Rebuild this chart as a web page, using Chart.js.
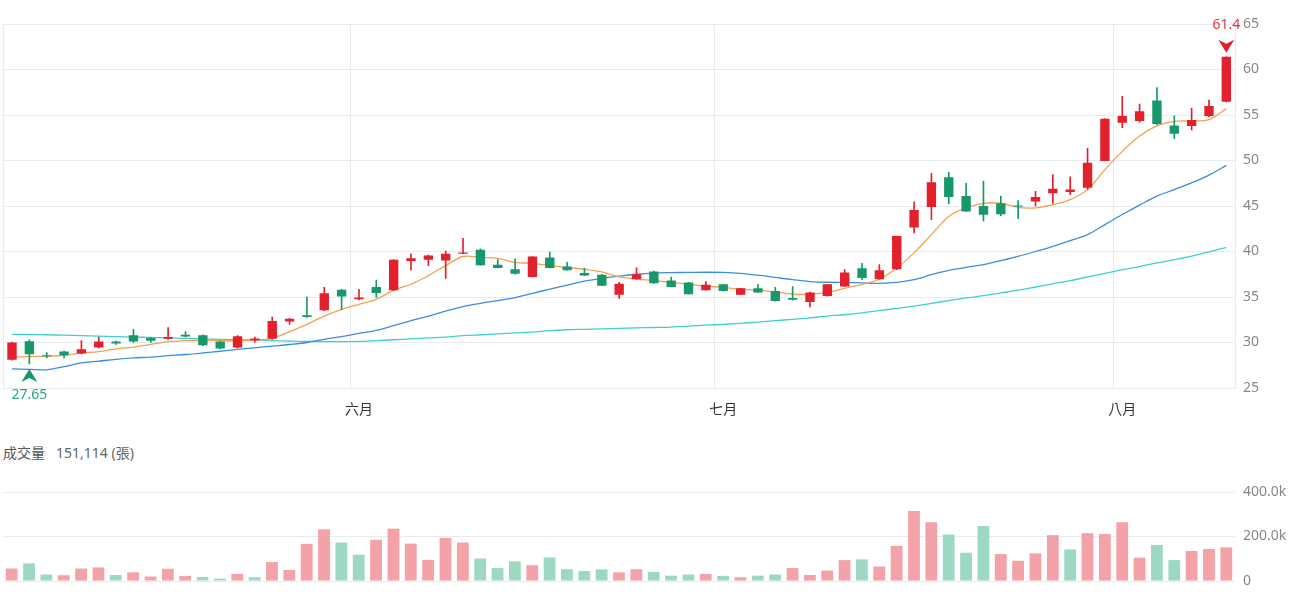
<!DOCTYPE html>
<html>
<head>
<meta charset="utf-8">
<script src="https://cdn.jsdelivr.net/npm/chart.js@4.4.1/dist/chart.umd.min.js"></script>
<style>
  body { margin: 0; background: #fff; width: 1300px; height: 600px; overflow: hidden; position: relative;
         font-family: 'Noto Sans', 'Noto Sans CJK TC', sans-serif; }
  #priceWrap { position: absolute; left: 0; top: 0; }
  #volTitle { position: absolute; left: 3px; top: 442px; font-size: 14px; color: #555; font-family: 'Noto Sans CJK TC', sans-serif; }
  #volTitle .num { color: #666; margin-left: 11px; font-family: 'Noto Sans', 'Noto Sans CJK TC', sans-serif; }
  #volWrap { position: absolute; left: 0; top: 470px; }
</style>
</head>
<body>
<div id="priceWrap"><canvas id="priceChart" width="1300" height="420"></canvas></div>
<div id="volTitle">成交量<span class="num" id="volNum"></span></div>
<div id="volWrap"><canvas id="volChart" width="1300" height="130"></canvas></div>

<script>
// month names and the index of the first trading day of each
const months = ["六月", "七月", "八月"];
const monthStart = [20, 41, 64];

const opens = [28.1, 30.15, 28.6, 29.0, 28.8, 29.45, 30.1, 30.8, 30.5, 30.4,
  30.85, 30.8, 30.1, 29.45, 30.25, 30.4, 32.3, 33.0, 33.55, 35.8,
  34.75, 36.1, 35.75, 38.95, 39.1, 39.0, 39.75, 40.2, 38.55, 38.05,
  37.2, 39.35, 38.35, 37.65, 37.45, 35.25, 36.95, 37.8, 36.8, 36.6,
  35.75, 36.4, 35.25, 35.95, 35.65, 34.9, 34.45, 35.1, 36.15, 38.15,
  36.95, 38.05, 42.65, 44.9, 48.15, 46.1, 45.0, 45.3, 45.05, 45.5,
  46.4, 46.55, 47.0, 49.95, 54.15, 54.35, 56.6, 53.85, 53.8, 54.9, 56.45];
const highs = [30.05, 30.3, 28.9, 29.05, 30.2, 30.6, 30.15, 31.45, 30.55, 31.65,
  31.2, 30.85, 30.15, 30.75, 30.6, 32.8, 32.65, 35.0, 36.05, 35.85,
  35.85, 36.85, 39.1, 39.75, 39.6, 40.05, 41.45, 40.3, 39.1, 39.2,
  39.45, 39.95, 38.8, 38.15, 37.5, 36.6, 38.2, 37.85, 37.2, 36.6,
  36.7, 36.4, 35.95, 36.4, 36.05, 36.15, 35.55, 36.4, 38.0, 38.7,
  38.55, 41.7, 45.45, 48.6, 48.7, 47.5, 47.75, 46.1, 45.6, 46.6,
  48.45, 48.2, 51.35, 54.6, 57.05, 56.2, 58.0, 54.9, 55.75, 56.65, 61.4];
const lows = [28.05, 27.65, 28.3, 28.3, 28.75, 29.4, 29.8, 30.0, 30.0, 30.35,
  30.6, 29.65, 29.3, 29.4, 30.05, 30.35, 32.0, 32.75, 33.5, 33.6,
  34.7, 34.95, 35.7, 37.95, 38.45, 37.05, 39.75, 38.5, 38.2, 37.5,
  37.2, 38.2, 37.95, 37.35, 36.25, 34.85, 36.95, 36.5, 36.1, 35.3,
  35.75, 35.65, 35.25, 35.5, 34.55, 34.65, 33.9, 35.1, 36.15, 36.9,
  36.95, 38.0, 42.05, 43.5, 45.25, 44.4, 43.35, 43.95, 43.6, 45.0,
  45.3, 46.25, 46.85, 49.95, 53.6, 54.2, 53.95, 52.4, 53.35, 54.8, 56.45];
const closes = [30.0, 28.7, 28.5, 28.6, 29.25, 30.1, 29.9, 30.1, 30.2, 30.6,
  30.65, 29.7, 29.35, 30.7, 30.45, 32.35, 32.6, 32.8, 35.4, 35.05,
  34.95, 35.45, 39.1, 39.25, 39.55, 39.75, 39.9, 38.5, 38.2, 37.55,
  39.45, 38.2, 37.95, 37.35, 36.25, 36.45, 37.5, 36.5, 36.1, 35.3,
  36.35, 35.65, 35.95, 35.5, 34.55, 34.7, 35.5, 36.4, 37.7, 37.1,
  37.95, 41.7, 44.55, 47.6, 46.0, 44.4, 44.05, 44.1, 44.95, 46.0,
  46.9, 46.8, 49.75, 54.6, 54.9, 55.4, 54.0, 52.95, 54.45, 56.0, 61.4];
const volumes = [56000, 79000, 29000, 26000, 56000, 61000, 27000, 39000, 20000, 55000,
  23000, 18000, 11000, 32000, 17000, 85000, 50000, 167000, 232000, 173000,
  118000, 185000, 235000, 168000, 95000, 194000, 173000, 101000, 58000, 88000,
  71000, 106000, 53000, 45000, 52000, 39000, 53000, 41000, 24000, 29000,
  32000, 23000, 17000, 24000, 29000, 58000, 27000, 47000, 94000, 97000,
  65000, 158000, 315000, 264000, 209000, 127000, 247000, 121000, 91000, 124000,
  206000, 142000, 215000, 211000, 264000, 105000, 162000, 94000, 135000, 144000, 151114];
const ma5 = [28.4, 28.45, 28.5, 28.6, 28.85, 29.0, 29.3, 29.5, 29.8, 30.1,
  30.2, 30.25, 30.2, 30.2, 30.25, 30.45, 31.2, 32.0, 32.9, 33.65,
  34.2, 34.75, 35.75, 36.4, 37.35, 38.45, 39.45, 39.35, 39.25, 38.8,
  38.7, 38.45, 38.25, 38.05, 37.75, 37.2, 36.97, 36.8, 36.6, 36.4,
  36.2, 36.05, 35.85, 35.75, 35.55, 35.3, 35.3, 35.5, 35.95, 36.4,
  36.95, 38.2, 39.85, 41.85, 43.85, 44.8, 45.3, 45.3, 44.85, 44.8,
  45.15, 45.7, 46.8, 49.0, 51.0, 52.7, 53.8, 54.3, 54.35, 54.5, 55.7];
const ma20 = [27.1, 27.05, 27.0, 27.35, 27.75, 27.95, 28.15, 28.3, 28.4, 28.55,
  28.68, 28.85, 29.04, 29.25, 29.42, 29.6, 29.78, 30.0, 30.35, 30.65,
  31.0, 31.33, 31.85, 32.4, 32.9, 33.45, 33.95, 34.3, 34.6, 34.94,
  35.4, 35.86, 36.3, 36.75, 37.05, 37.3, 37.5, 37.63, 37.68, 37.7,
  37.72, 37.7, 37.6, 37.4, 37.15, 36.9, 36.7, 36.62, 36.6, 36.55,
  36.5, 36.6, 36.9, 37.45, 37.93, 38.25, 38.56, 39.0, 39.47, 40.0,
  40.57, 41.2, 41.86, 42.95, 44.06, 45.1, 46.08, 46.8, 47.55, 48.4, 49.46];
const ma60 = [30.9, 30.88, 30.85, 30.8, 30.75, 30.7, 30.65, 30.6, 30.55, 30.5,
  30.45, 30.4, 30.35, 30.3, 30.25, 30.2, 30.15, 30.12, 30.1, 30.1,
  30.12, 30.2, 30.3, 30.4, 30.5, 30.6, 30.75, 30.85, 30.95, 31.05,
  31.15, 31.3, 31.4, 31.45, 31.5, 31.55, 31.6, 31.65, 31.7, 31.8,
  31.9, 32.0, 32.1, 32.25, 32.4, 32.55, 32.7, 32.9, 33.05, 33.25,
  33.5, 33.75, 34.0, 34.3, 34.6, 34.9, 35.15, 35.45, 35.75, 36.1,
  36.45, 36.8, 37.2, 37.6, 38.0, 38.35, 38.75, 39.1, 39.5, 39.95, 40.45];
const priceTicks = [25, 30, 35, 40, 45, 50, 55, 60, 65];
const volTicks = [0, 200000, 400000];

const RED = "#e2212d";
const GREEN = "#17986b";
const VOL_RED = "#f3a2a7";
const VOL_GREEN = "#9dd8c2";
const GRID = "#e8eaf1";

const labels = opens.map((o, i) => {
  const m = monthStart.indexOf(i);
  return m >= 0 ? months[m] : "";
});
const candleColors = opens.map((o, i) => closes[i] >= o ? RED : GREEN);
const volColors = closes.map((c, i) => (i === 0 || c >= closes[i - 1]) ? VOL_RED : VOL_GREEN);

document.getElementById("volNum").textContent =
  volumes[volumes.length - 1].toLocaleString("en-US") + " (張)";

Chart.defaults.font.family = "'Noto Sans', 'Noto Sans CJK TC', sans-serif";

// high / low markers above and below the extreme candles
const extremesPlugin = {
  id: "extremes",
  afterDatasetsDraw(chart) {
    const { ctx, scales } = chart;
    const hi = highs.indexOf(Math.max(...highs));
    const lo = lows.indexOf(Math.min(...lows));
    ctx.save();
    ctx.font = "14px 'Noto Sans', sans-serif";
    ctx.textAlign = "center";
    ctx.textBaseline = "middle";

    let x = scales.x.getPixelForValue(hi);
    let y = scales.y.getPixelForValue(highs[hi]);
    ctx.fillStyle = RED;
    ctx.beginPath();
    ctx.moveTo(x, y - 4);
    ctx.lineTo(x - 8, y - 17);
    ctx.lineTo(x, y - 13);
    ctx.lineTo(x + 8, y - 17);
    ctx.closePath();
    ctx.fill();
    ctx.fillStyle = "#e5323e";
    ctx.fillText(String(highs[hi]), x, y - 32);

    x = scales.x.getPixelForValue(lo);
    y = scales.y.getPixelForValue(lows[lo]);
    ctx.fillStyle = GREEN;
    ctx.beginPath();
    ctx.moveTo(x, y + 5);
    ctx.lineTo(x - 8, y + 18);
    ctx.lineTo(x, y + 14);
    ctx.lineTo(x + 8, y + 18);
    ctx.closePath();
    ctx.fill();
    ctx.fillStyle = "#2aa57b";
    ctx.fillText(lows[lo].toFixed(2), x, y + 31);
    ctx.restore();
  }
};

const lineSet = (data, color, order) => ({
  type: "line",
  data,
  borderColor: color,
  borderWidth: 1.3,
  pointRadius: 0,
  tension: 0.35,
  order
});

new Chart(document.getElementById("priceChart"), {
  type: "bar",
  data: {
    labels,
    datasets: [
      {
        data: opens.map((o, i) => [o, closes[i]]),
        backgroundColor: candleColors,
        barPercentage: 0.54,
        categoryPercentage: 1,
        grouped: false,
        minBarLength: 1,
        order: 0
      },
      {
        data: lows.map((l, i) => [l, highs[i]]),
        backgroundColor: candleColors,
        barThickness: 1,
        grouped: false,
        order: 1
      },
      lineSet(ma5, "#f5a050", 2),
      lineSet(ma20, "#3a8ee0", 3),
      lineSet(ma60, "#40d0cf", 4)
    ]
  },
  options: {
    responsive: false,
    animation: false,
    layout: { padding: { left: 3, top: 24, right: 0, bottom: 0 } },
    plugins: { legend: { display: false }, tooltip: { enabled: false } },
    scales: {
      x: {
        offset: true,
        grid: {
          offset: true,
          drawTicks: false,
          color: ctx => (ctx.index === 0 || monthStart.includes(ctx.index)) ? GRID : "rgba(0,0,0,0)"
        },
        border: { color: GRID },
        ticks: { autoSkip: false, maxRotation: 0, padding: 12, color: "#333", font: { size: 14, family: "'Noto Sans CJK TC', sans-serif" } },
        afterFit: s => { s.height = 32; }
      },
      y: {
        position: "right",
        min: 25,
        max: 65,
        afterBuildTicks: s => { s.ticks = priceTicks.map(v => ({ value: v })); },
        grid: { color: GRID, drawTicks: false },
        border: { color: GRID },
        ticks: { padding: 8, color: "#888", font: { size: 14 } },
        afterFit: s => { s.width = 65; }
      }
    }
  },
  plugins: [extremesPlugin]
});

new Chart(document.getElementById("volChart"), {
  type: "bar",
  data: {
    labels,
    datasets: [{
      data: volumes,
      backgroundColor: volColors,
      barPercentage: 0.68,
      categoryPercentage: 1
    }]
  },
  options: {
    responsive: false,
    animation: false,
    layout: { padding: { left: 3, top: 22, right: 0, bottom: 19 } },
    plugins: { legend: { display: false }, tooltip: { enabled: false } },
    scales: {
      x: { display: false, offset: true },
      y: {
        position: "right",
        min: 0,
        max: 400000,
        afterBuildTicks: s => { s.ticks = volTicks.map(v => ({ value: v })); },
        grid: { color: GRID, drawTicks: false },
        border: { display: false },
        ticks: {
          padding: 8,
          color: "#888",
          font: { size: 14 },
          callback: v => v === 0 ? "0" : (v / 1000).toFixed(1) + "k"
        },
        afterFit: s => { s.width = 65; }
      }
    }
  }
});
</script>
</body>
</html>
